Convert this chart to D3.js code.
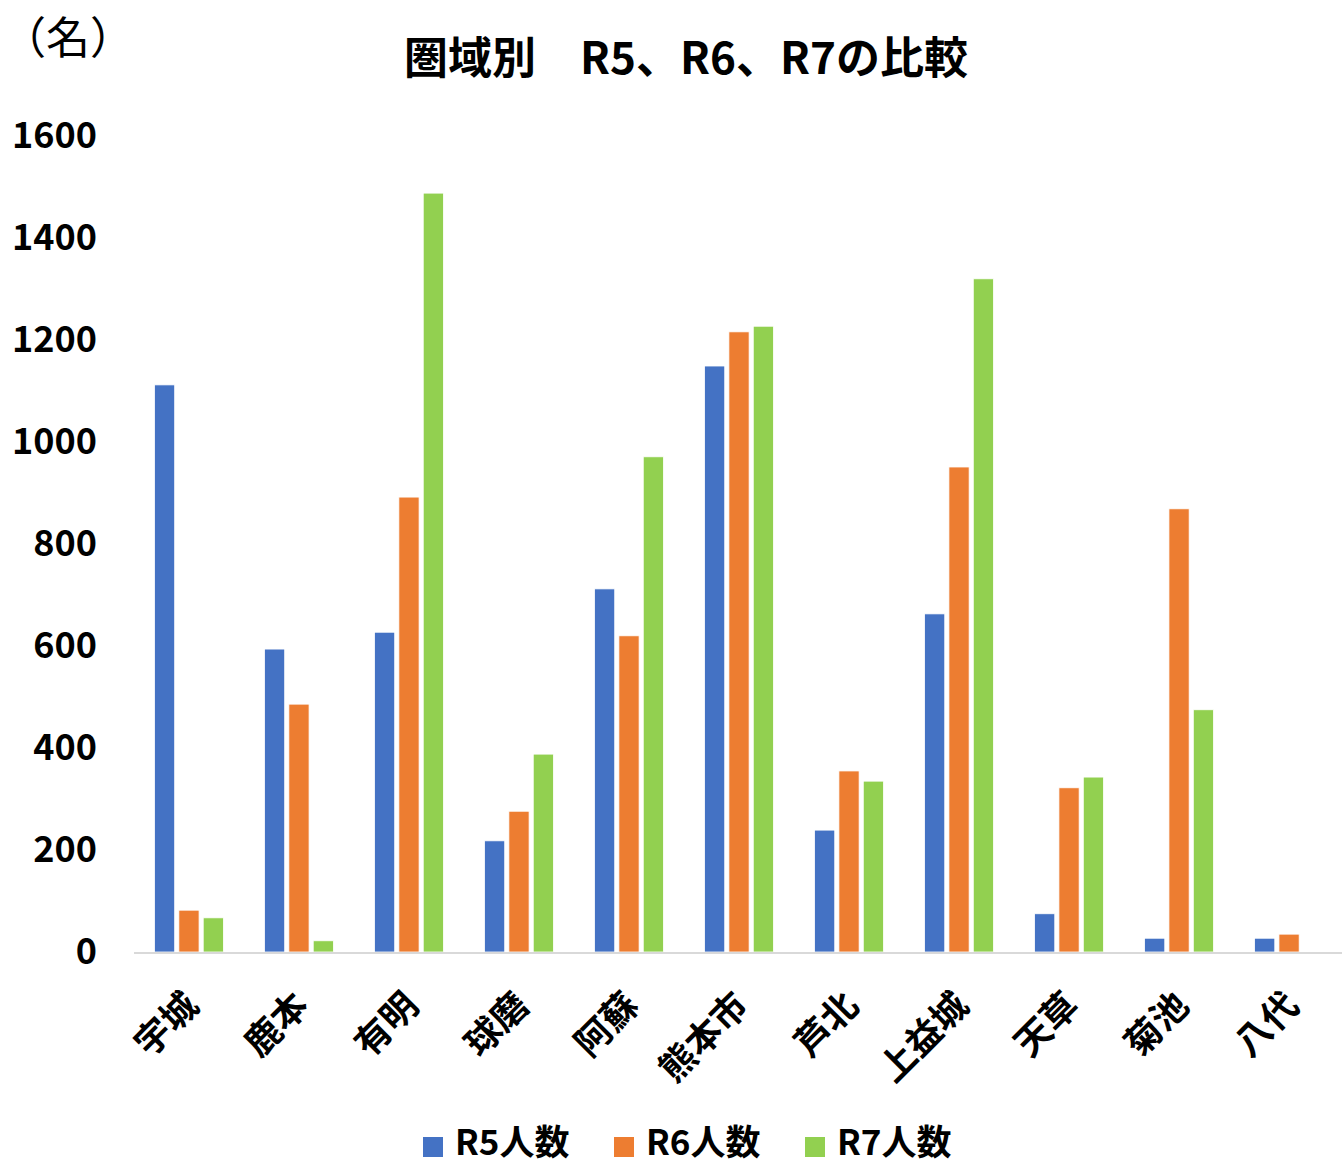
<!DOCTYPE html>
<html>
<head>
<meta charset="utf-8">
<script src="https://cdn.jsdelivr.net/npm/d3@7"></script>
<style>
  body { margin: 0; background: #fff; }
  text { font-family: "Noto Sans CJK JP", "Noto Sans", sans-serif; }
</style>
</head>
<body>
<div id="chart"></div>
<script>
// data
const categories = ["宇城", "鹿本", "有明", "球磨", "阿蘇", "熊本市", "芦北", "上益城", "天草", "菊池", "八代"];
const seriesNames = ["R5人数", "R6人数", "R7人数"];
const r5 = [1112, 594, 627, 218, 712, 1149, 239, 663, 75, 27, 27];
const r6 = [82, 486, 892, 276, 620, 1216, 355, 951, 322, 869, 35];
const r7 = [67, 22, 1488, 388, 971, 1227, 335, 1320, 343, 475, 0];
const yTicks = [0, 200, 400, 600, 800, 1000, 1200, 1400, 1600];
const colors = ["#4472C4", "#ED7D31", "#92D050"];

const W = 1342, H = 1166;
const margin = { top: 136, right: -2, bottom: 214, left: 134 };
const width = W - margin.left - margin.right,
  height = H - margin.top - margin.bottom;

const svg = d3.select("#chart")
  .append("svg")
  .attr("width", W)
  .attr("height", H);

// title + unit
svg.append("text")
  .attr("x", 686).attr("y", 74)
  .attr("text-anchor", "middle")
  .style("font-size", "44px")
  .style("font-weight", "bold")
  .text("圏域別　R5、R6、R7の比較");

svg.append("text")
  .attr("x", 2).attr("y", 54)
  .style("font-size", "44px")
  .text("（名）");

const g = svg.append("g")
  .attr("transform", `translate(${margin.left}, ${margin.top})`);

// scales
const x = d3.scaleBand().domain(categories).range([0, width]).paddingInner(0.373).paddingOuter(0.186);
const xs = d3.scaleBand().domain(seriesNames).range([0, x.bandwidth()]).paddingInner(0.17);
const y = d3.scaleLinear().domain([0, 1600]).range([height, 0]);

// y axis labels only
const yAxis = g.append("g")
  .call(d3.axisLeft(y).tickValues(yTicks).tickFormat(d3.format("d")).tickSize(0).tickPadding(37));
yAxis.select(".domain").remove();
yAxis.selectAll("text")
  .style("font-size", "36px")
  .style("font-weight", "bold")
  .style("font-family", "\"Noto Sans CJK JP\", sans-serif")
  .attr("fill", "#000");

// bars
const rows = categories.map((c, i) => ({ cat: c, vals: [r5[i], r6[i], r7[i]] }));
const groups = g.selectAll(".grp")
  .data(rows)
  .join("g")
  .attr("class", "grp")
  .attr("transform", d => `translate(${x(d.cat)}, 0)`);

groups.selectAll("rect")
  .data(d => d.vals.map((v, k) => ({ name: seriesNames[k], value: v, k: k })))
  .join("rect")
  .attr("x", d => xs(d.name))
  .attr("y", d => y(d.value))
  .attr("width", xs.bandwidth())
  .attr("height", d => height - y(d.value))
  .style("fill", d => colors[d.k])
  .style("stroke", "#fff")
  .style("stroke-width", 0.8)
  .style("display", d => d.value > 0 ? null : "none");

// x axis line
g.append("line")
  .attr("x1", 0).attr("x2", width)
  .attr("y1", height + 1).attr("y2", height + 1)
  .attr("stroke", "#d9d9d9")
  .attr("stroke-width", 2);

// rotated category labels
g.selectAll(".xlab")
  .data(categories)
  .join("text")
  .attr("class", "xlab")
  .attr("transform", d => `translate(${x(d) + x.bandwidth() / 2 - 6}, ${height + 38}) rotate(-45)`)
  .attr("text-anchor", "end")
  .attr("dy", "0.7em")
  .style("font-size", "36px")
  .style("font-weight", "bold")
  .text(d => d);

// legend
const legendX = [423, 614, 805];
const legend = svg.append("g");
seriesNames.forEach((s, i) => {
  legend.append("rect")
    .attr("x", legendX[i]).attr("y", 1137)
    .attr("width", 20).attr("height", 20)
    .style("fill", colors[i]);
  legend.append("text")
    .attr("x", legendX[i] + 32).attr("y", 1155)
    .style("font-size", "35px")
    .style("font-weight", "bold")
    .text(s);
});
</script>
</body>
</html>
